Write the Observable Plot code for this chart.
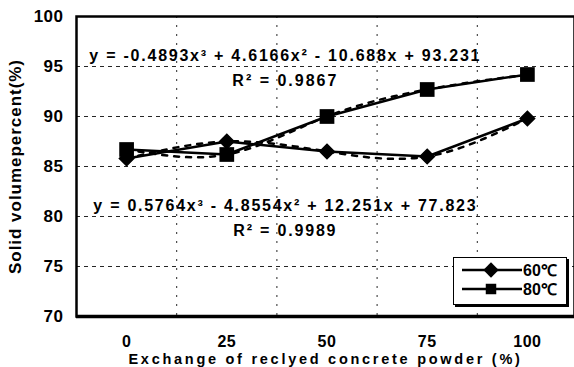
<!DOCTYPE html>
<html>
<head>
<meta charset="utf-8">
<script src="https://cdn.jsdelivr.net/npm/d3@7"></script>
<script src="https://cdn.jsdelivr.net/npm/@observablehq/plot@0.6"></script>
<style>
  html, body { margin: 0; padding: 0; background: #fff; }
  #wrap { position: relative; width: 574px; height: 367px; overflow: hidden; background: #fff; }
  #legend { position: absolute; left: 453px; top: 257px; width: 112px; height: 46px;
            border: 1px solid #000; box-shadow: 2px 2px 0 #000; background: #fff; }
  #legend svg { display: block; }
</style>
</head>
<body>
<div id="wrap"></div>
<script>
// ---- data ----
const categories = [0, 25, 50, 75, 100];
const series = ["60℃", "80℃"];
const temp60 = [85.8, 87.5, 86.5, 86.0, 89.8];
const temp80 = [86.7, 86.2, 90.0, 92.7, 94.2];
const yTicks = [70, 75, 80, 85, 90, 95, 100];
const gridYValues = [75, 80, 85, 90, 95];
const gridXValues = [12.5, 37.5, 62.5, 87.5];
const xLabel = "Exchange of reclyed concrete powder (%)";
const yLabel = "Solid volumepercent(%)";
const equationTexts = [
  "y = -0.4893x³ + 4.6166x² - 10.688x + 93.231",
  "R² = 0.9867",
  "y = 0.5764x³ - 4.8554x² + 12.251x + 77.823",
  "R² = 0.9989"
];
const equationX = [39.6, 39.6, 39.6, 39.6];
const equationY = [96.1, 93.6, 81.1, 78.6];

const data = [
  ...categories.map((c, i) => ({x: c, y: temp60[i], s: series[0]})),
  ...categories.map((c, i) => ({x: c, y: temp80[i], s: series[1]}))
];
const annotations = equationTexts.map((t, i) => ({text: t, x: equationX[i], y: equationY[i]}));

const font = "'Liberation Sans', Arial, sans-serif";

const chart = Plot.plot({
  width: 574,
  height: 367,
  marginLeft: 76,
  marginRight: 0,
  marginTop: 16,
  marginBottom: 51,
  style: {fontFamily: font, background: "#fff", color: "#000"},
  x: {domain: [-12.5, 112.5], range: [76, 577]},
  y: {domain: [70, 100]},
  marks: [
    Plot.gridY(gridYValues, {stroke: "#000", strokeOpacity: 0.85, strokeDasharray: "4,4", strokeWidth: 1}),
    Plot.gridX(gridXValues, {stroke: "#000", strokeOpacity: 0.85, strokeDasharray: "2,7", strokeWidth: 1}),
    Plot.frame({stroke: "#000", strokeWidth: 2.5}),
    Plot.ruleY([70], {stroke: "#000", strokeWidth: 3.5}),
    Plot.axisY(yTicks, {tickSize: 0, tickPadding: 13, fontSize: 17, fontWeight: "bold",
      label: yLabel, labelAnchor: "center", labelOffset: 68, labelArrow: "none"}),
    Plot.axisX(categories, {tickSize: 0, tickPadding: 19, fontSize: 16, fontWeight: "bold",
      label: xLabel, labelAnchor: "center", labelOffset: 47, labelArrow: "none"}),
    Plot.line(data, {x: "x", y: "y", z: "s", curve: "natural", stroke: "#000", strokeWidth: 2.5, strokeDasharray: "5,7"}),
    Plot.line(data, {x: "x", y: "y", z: "s", stroke: "#000", strokeWidth: 2.5}),
    Plot.dot(data.filter(d => d.s === series[0]), {x: "x", y: "y", symbol: "diamond2", r: 6.5, fill: "#000", stroke: "#000"}),
    Plot.dot(data.filter(d => d.s === series[1]), {x: "x", y: "y", symbol: "square", r: 8.3, fill: "#000"}),
    Plot.text(annotations, {x: "x", y: "y", text: "text", fontSize: 16, fontWeight: "bold", fill: "#000"})
  ]
});

const wrap = document.getElementById("wrap");
wrap.appendChild(chart);

function fitWidth(node, target) {
  node.style.letterSpacing = "0px";
  const n = node.textContent.length;
  const w = node.getComputedTextLength();
  if (n > 1) node.style.letterSpacing = ((target - w) / n).toFixed(2) + "px";
}
const texts = Array.from(chart.querySelectorAll("text"));
const tickStrings = yTicks.concat(categories).map(String);
const eqTargets = [392, 106, 384, 104];
texts.forEach(t => {
  const s = t.textContent;
  if (s === xLabel) { t.style.fontSize = "14.5px"; fitWidth(t, 394); }
  else if (s === yLabel) fitWidth(t, 215);
  else if (equationTexts.includes(s)) fitWidth(t, eqTargets[equationTexts.indexOf(s)]);
  else if (tickStrings.includes(s)) t.style.letterSpacing = "0.5px";
});

// ---- legend ----
const legend = document.createElement("div");
legend.id = "legend";
const lsvg = d3.create("svg").attr("width", 112).attr("height", 46);
const rows = [{label: series[0], sym: d3.symbolDiamond2, size: 150}, {label: series[1], sym: d3.symbolSquare, size: 110}];
rows.forEach((r, i) => {
  const cy = 12 + i * 19;
  lsvg.append("line").attr("x1", 8).attr("x2", 68).attr("y1", cy).attr("y2", cy).attr("stroke", "#000").attr("stroke-width", 2.5);
  lsvg.append("path").attr("d", d3.symbol(r.sym, r.size)()).attr("transform", `translate(37,${cy})`).attr("fill", "#000");
  lsvg.append("text").attr("x", 69).attr("y", cy).attr("dy", "0.36em").attr("font-family", font)
    .attr("font-size", 16).attr("font-weight", "bold").text(r.label);
});
legend.appendChild(lsvg.node());
wrap.appendChild(legend);
</script>
</body>
</html>
